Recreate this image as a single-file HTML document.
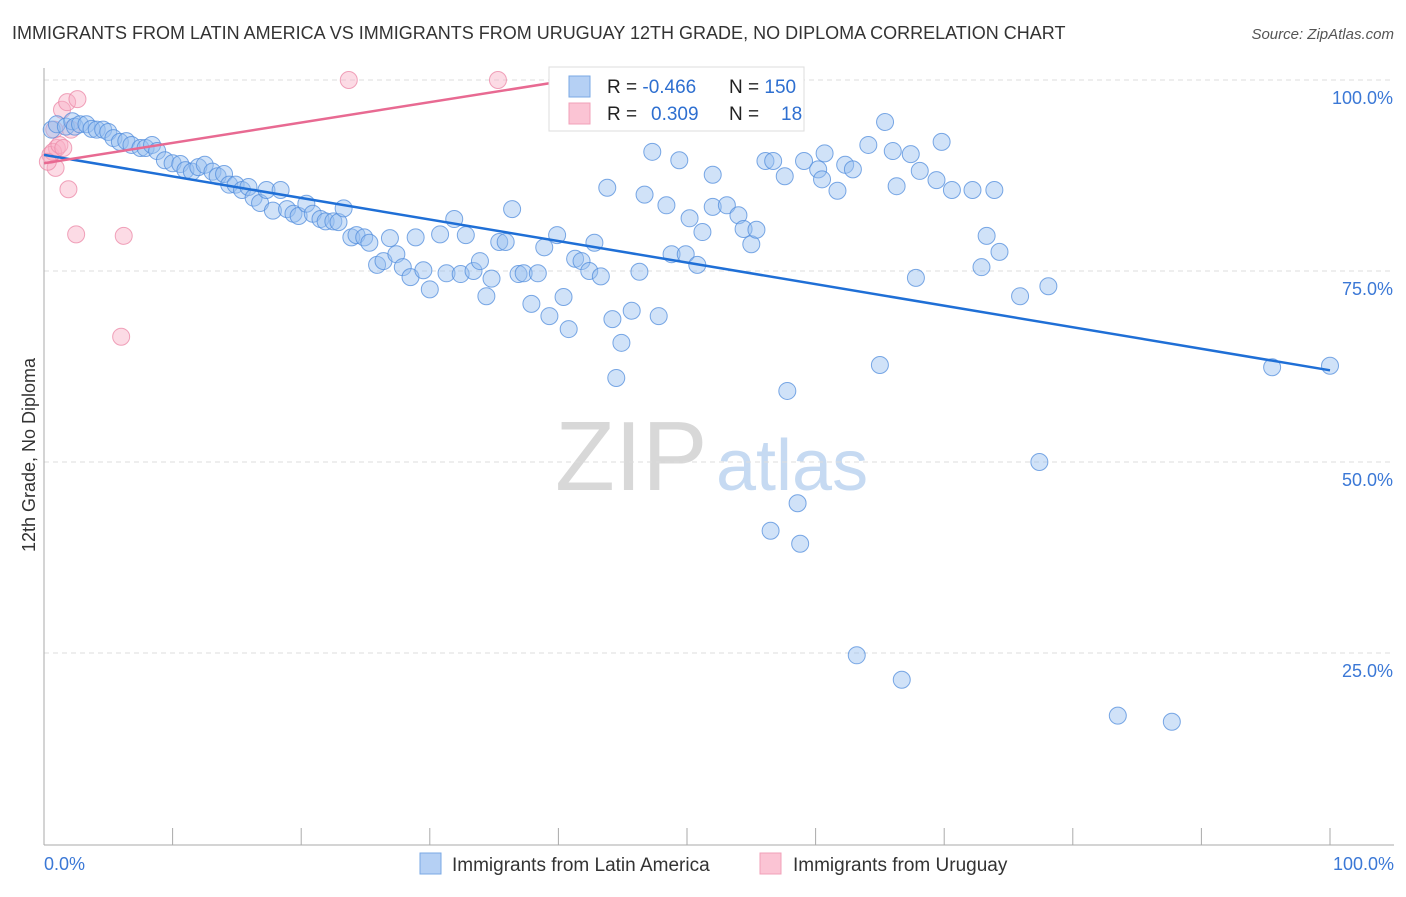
<!DOCTYPE html>
<html><head><meta charset="utf-8"><style>
body{margin:0;background:#fff;}
svg text{font-family:"Liberation Sans",sans-serif;}
</style></head><body>
<svg id="chart" width="1406" height="892" viewBox="0 0 1406 892">
<text x="12" y="39" font-size="18" fill="#333">IMMIGRANTS FROM LATIN AMERICA VS IMMIGRANTS FROM URUGUAY 12TH GRADE, NO DIPLOMA CORRELATION CHART</text>
<text x="1394" y="39" font-size="15" fill="#555" font-style="italic" text-anchor="end">Source: ZipAtlas.com</text>
<g>
<text x="555" y="490" font-size="98" fill="#d8d8d8" font-family="Liberation Serif,serif">ZIP</text>
<text x="716" y="490" font-size="72" fill="#c6daf2">atlas</text>
</g>
<g id="grid"></g>
<g id="axes"></g>
<g id="pts"></g>
<g id="lines"></g>
<g>
<rect x="549" y="67" width="255" height="64" fill="#fff" stroke="#ddd"/>
<rect x="569" y="76" width="21" height="21" fill="#b5d0f4" stroke="#7aa8e4"/>
<rect x="569" y="103" width="21" height="21" fill="#fbc4d4" stroke="#f2a0b8"/>
<text x="607" y="93" font-size="19" fill="#222">R = <tspan fill="#2e6fd0">-0.466</tspan></text>
<text x="729" y="93" font-size="19" fill="#222">N = <tspan fill="#2e6fd0">150</tspan></text>
<text x="607" y="120" font-size="19" fill="#222">R = <tspan fill="#2e6fd0" x="651">0.309</tspan></text>
<text x="729" y="120" font-size="19" fill="#222">N = <tspan fill="#2e6fd0" x="781">18</tspan></text>
</g>
<g>
<rect x="420" y="853" width="21" height="21" fill="#b5d0f4" stroke="#7aa8e4"/>
<text x="452" y="871" font-size="19" fill="#333">Immigrants from Latin America</text>
<rect x="760" y="853" width="21" height="21" fill="#fbc4d4" stroke="#f2a0b8"/>
<text x="793" y="871" font-size="19" fill="#333">Immigrants from Uruguay</text>
</g>
<text transform="translate(35,455) rotate(-90)" font-size="18" fill="#333" text-anchor="middle">12th Grade, No Diploma</text>
</svg>
<script>
const blueX=[0.6,1.0,1.7,2.2,2.4,2.8,3.3,3.7,4.1,4.6,5.0,5.4,5.9,6.4,6.8,7.5,7.9,8.4,8.8,9.4,10.0,10.6,11.0,11.5,12.0,12.5,13.1,13.5,14.0,14.4,14.9,15.4,15.9,16.3,16.8,17.3,17.8,18.4,18.9,19.4,19.8,20.4,20.9,21.5,21.9,22.5,22.9,23.3,23.9,24.3,24.9,25.3,25.9,26.4,26.9,27.4,27.9,28.5,28.9,29.5,30.0,30.8,31.3,31.9,32.4,32.8,33.4,33.9,34.4,34.8,35.4,35.9,36.4,36.9,37.3,37.9,38.4,38.9,39.3,39.9,40.4,40.8,41.3,41.8,42.4,42.8,43.3,43.8,44.2,44.5,44.9,45.7,46.3,46.7,47.3,47.8,48.4,48.8,49.4,49.9,50.2,50.8,51.2,52.0,52.0,53.1,53.2,54.0,54.4,55.0,55.4,56.1,56.7,56.5,57.6,57.8,58.6,58.8,59.1,60.2,60.5,60.7,61.7,62.3,62.9,63.2,64.1,65.0,65.4,66.0,66.3,66.7,67.4,67.8,68.1,69.4,69.8,70.6,72.2,72.9,73.3,73.9,74.3,75.9,77.4,78.1,83.5,87.7,95.5,100.0];
const blueY=[93.5,94.2,93.9,94.6,93.9,94.2,94.2,93.6,93.5,93.5,93.2,92.4,91.9,92.0,91.5,91.1,91.1,91.5,90.7,89.5,89.1,89.0,88.2,88.0,88.6,88.9,88.0,87.4,87.7,86.3,86.3,85.6,86.0,84.6,83.9,85.6,82.9,85.6,83.1,82.5,82.2,83.8,82.5,81.8,81.5,81.5,81.4,83.2,79.4,79.7,79.4,78.7,75.8,76.3,79.3,77.2,75.5,74.2,79.4,75.1,72.6,79.8,74.7,81.8,74.6,79.7,75.0,76.3,71.7,74.0,78.8,78.8,83.1,74.6,74.7,70.7,74.7,78.1,69.1,79.7,71.6,67.4,76.6,76.3,75.0,78.7,74.3,85.9,68.7,61.0,65.6,69.8,74.9,85.0,90.6,69.1,83.6,77.2,89.5,77.2,81.9,75.8,80.1,87.6,83.4,83.6,95.0,82.3,80.5,78.5,80.4,89.4,89.4,41.0,87.4,59.3,44.6,39.3,89.4,88.3,87.0,90.4,85.5,88.9,88.3,24.7,91.5,62.7,94.5,90.7,86.1,21.5,90.3,74.1,88.1,86.9,91.9,85.6,85.6,75.5,79.6,85.6,77.5,71.7,50.0,73.0,16.8,16.0,62.4,62.6];
const pinkX=[0.8,1.0,0.9,1.4,1.8,1.9,2.1,2.6,2.5,6.2,6.0,23.7,35.3,0.5,0.7,1.2,1.5,0.3];
const pinkY=[93.5,91.1,88.5,96.1,97.1,85.7,93.5,97.5,79.8,79.6,66.4,100,100,90.2,90.6,91.5,91.1,89.3];
const blueTrend=[90.2,62.0];
const pinkTrend=[89.1,100];
const pinkTrendEndX=40.9;
const yTicks=[25,50,75,100];
const yTickLabels=["25.0%","50.0%","75.0%","100.0%"];
const xTicks=[0,10,20,30,40,50,60,70,80,90,100];

const NS="http://www.w3.org/2000/svg";
const sx=v=>44+v*12.86;
const sy=v=>844-v*7.64;
function mk(tag,attrs,parent){const e=document.createElementNS(NS,tag);for(const k in attrs)e.setAttribute(k,attrs[k]);parent.appendChild(e);return e;}
const grid=document.getElementById('grid'),axes=document.getElementById('axes'),pts=document.getElementById('pts'),lines=document.getElementById('lines');
yTicks.forEach((t,i)=>{
 const l=mk('line',{x1:44,x2:1394,y1:sy(t),y2:sy(t),stroke:'#ddd','stroke-dasharray':'5,4'},grid);
 
 
 const tx=mk('text',{x:1393,y:sy(t)+24,'font-size':18,fill:'#3b78d6','text-anchor':'end'},axes);
 tx.textContent=yTickLabels[i];
 
 
});
const ya=mk('line',{x1:44,x2:44,y1:68,y2:845,stroke:'#aaa'},axes);


const xa=mk('line',{x1:44,x2:1394,y1:845,y2:845,stroke:'#aaa'},axes);


xTicks.forEach(t=>{
 const l=mk('line',{x1:sx(t),x2:sx(t),y1:828,y2:845,stroke:'#aaa'},axes);
 
 
});
[[0,'0.0%','start',44],[100,'100.0%','end',1394]].forEach(([v,s,a,x])=>{
 const tx=mk('text',{x:x,y:870,'font-size':18,fill:'#3b78d6','text-anchor':a},axes);
 tx.textContent=s;
 
 
});
pinkX.forEach((x,i)=>{
 const c=mk('circle',{cx:sx(x),cy:sy(pinkY[i]),r:8.5,fill:'rgba(248,175,198,0.45)',stroke:'rgba(236,140,170,0.8)','stroke-width':1},pts);
 
 
});
blueX.forEach((x,i)=>{
 const c=mk('circle',{cx:sx(x),cy:sy(blueY[i]),r:8.5,fill:'rgba(150,190,240,0.45)',stroke:'rgba(80,140,220,0.75)','stroke-width':1},pts);
 
 
});
const bl=mk('line',{x1:sx(0),y1:sy(blueTrend[0]),x2:sx(100),y2:sy(blueTrend[1]),stroke:'#1f6fd6','stroke-width':2.5},lines);


const pl=mk('line',{x1:sx(0),y1:sy(pinkTrend[0]),x2:sx(pinkTrendEndX),y2:sy(pinkTrend[1]),stroke:'#e86a92','stroke-width':2.5},lines);


</script>
</body></html>
